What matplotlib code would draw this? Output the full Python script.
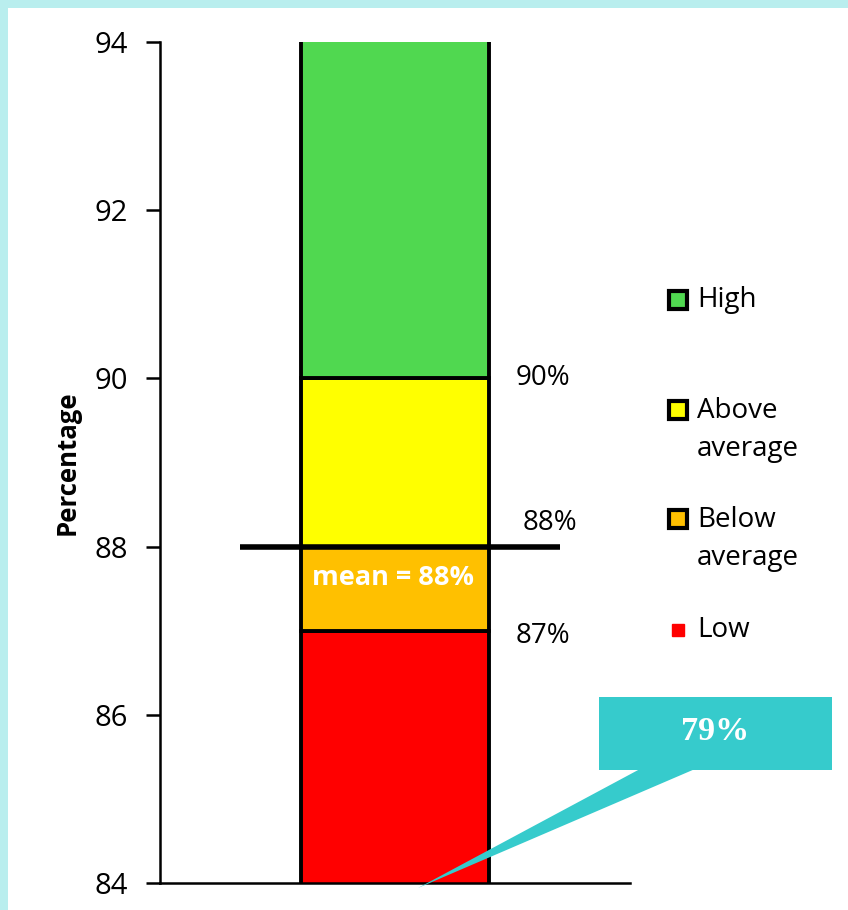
import matplotlib
matplotlib.use("Agg")
import matplotlib.pyplot as plt
from matplotlib.patches import Rectangle, Polygon
from matplotlib.lines import Line2D

plt.rcParams['font.family'] = ['Open Sans', 'DejaVu Sans']

# band data (stacked from zero, axis shows 84-94 only)
bands = ["Low", "Below\naverage", "Above\naverage", "High"]
band_heights = [87, 1, 2, 10]
band_colors = ["#FF0000", "#FFC000", "#FFFF00", "#50D850"]
cut_values = [90, 88, 87]
cut_labels = ["90%", "88%", "87%"]
mean_value = 88
callout_text = "79%"
yticks = [84, 86, 88, 90, 92, 94]

W, H = 848, 910
fig = plt.figure(figsize=(W / 100, H / 100), dpi=100)

def fx(px):
    return px / W

def fy(py):
    return 1 - py / H

# light cyan frame at top and left
fig.add_artist(Rectangle((0, fy(8)), 1, 8 / H, transform=fig.transFigure,
                         color="#B9EEEE", lw=0, zorder=0))
fig.add_artist(Rectangle((0, 0), 8 / W, 1, transform=fig.transFigure,
                         color="#B9EEEE", lw=0, zorder=0))

ax = fig.add_axes([fx(160), fy(883), fx(630) - fx(160), fy(42) - fy(883)])

bottom = 0
for h, c in zip(band_heights, band_colors):
    ax.bar(0.5, h, width=0.402, bottom=bottom, color=c, edgecolor="black",
           linewidth=2.8, zorder=2)
    bottom += h

ax.set_ylim(84, 94)
ax.set_xlim(0, 1)
ax.set_yticks(yticks)
ax.set_yticklabels([str(t) for t in yticks], fontsize=21)
ax.set_xticks([])
ax.tick_params(axis="y", direction="out", length=10, width=1.8, pad=13)
for s in ["top", "right"]:
    ax.spines[s].set_visible(False)
ax.spines["left"].set_linewidth(1.8)
ax.spines["bottom"].set_linewidth(1.8)
ax.set_ylabel("Percentage", fontsize=18.5, fontweight="bold", labelpad=10)

# mean line
ax.plot([0.17, 0.851], [mean_value, mean_value], color="black", lw=4,
        zorder=4, clip_on=False, solid_capstyle="butt")
ax.text(0.495, mean_value - 0.37, "mean = %d%%" % mean_value, color="white",
        fontsize=19.5, fontweight="bold", ha="center", va="center", zorder=5)

# cut labels to the right of the bar
offsets = {90: 0.0, 88: 0.28, 87: -0.06}
xs = {90: 0.815, 88: 0.83, 87: 0.815}
for v, lab in zip(cut_values, cut_labels):
    ax.text(xs[v], v + offsets[v], lab, fontsize=20, ha="center", va="center")

# legend drawn by hand
leg_y = {"High": 300, "Above\naverage": 430, "Below\naverage": 539, "Low": 630}
for b, c in zip(bands, band_colors):
    y0 = leg_y[b]
    if b == "Low":
        mk = Line2D([fx(678)], [fy(630)], marker="s", markersize=8,
                    markerfacecolor=c, markeredgecolor=c, linestyle="none",
                    transform=fig.transFigure)
        fig.add_artist(mk)
        fig.text(fx(697), fy(630), b, fontsize=20, va="center", ha="left")
    else:
        first_y = y0 if b == "High" else y0 - 20
        mk = Line2D([fx(678)], [fy(first_y)], marker="s", markersize=13.5,
                    markerfacecolor=c, markeredgecolor="black",
                    markeredgewidth=3, linestyle="none",
                    transform=fig.transFigure)
        fig.add_artist(mk)
        fig.text(fx(697), fy(y0), b, fontsize=20, va="center", ha="left",
                 linespacing=1.45)

# callout box with pointer
fig.add_artist(Polygon([(fx(640), fy(769)), (fx(695), fy(769)),
                        (fx(418), fy(888))], closed=True,
                       transform=fig.transFigure, color="#36CBCC", lw=0,
                       zorder=6))
fig.add_artist(Rectangle((fx(599), fy(770)), fx(832) - fx(599),
                         fy(697) - fy(770), transform=fig.transFigure,
                         color="#36CBCC", lw=0, zorder=6))
fig.text(fx(715), fy(731), callout_text, fontsize=24.5, fontweight="bold",
         family="Liberation Serif", color="white", ha="center", va="center",
         zorder=7)

fig.savefig("out.png", dpi=100)
